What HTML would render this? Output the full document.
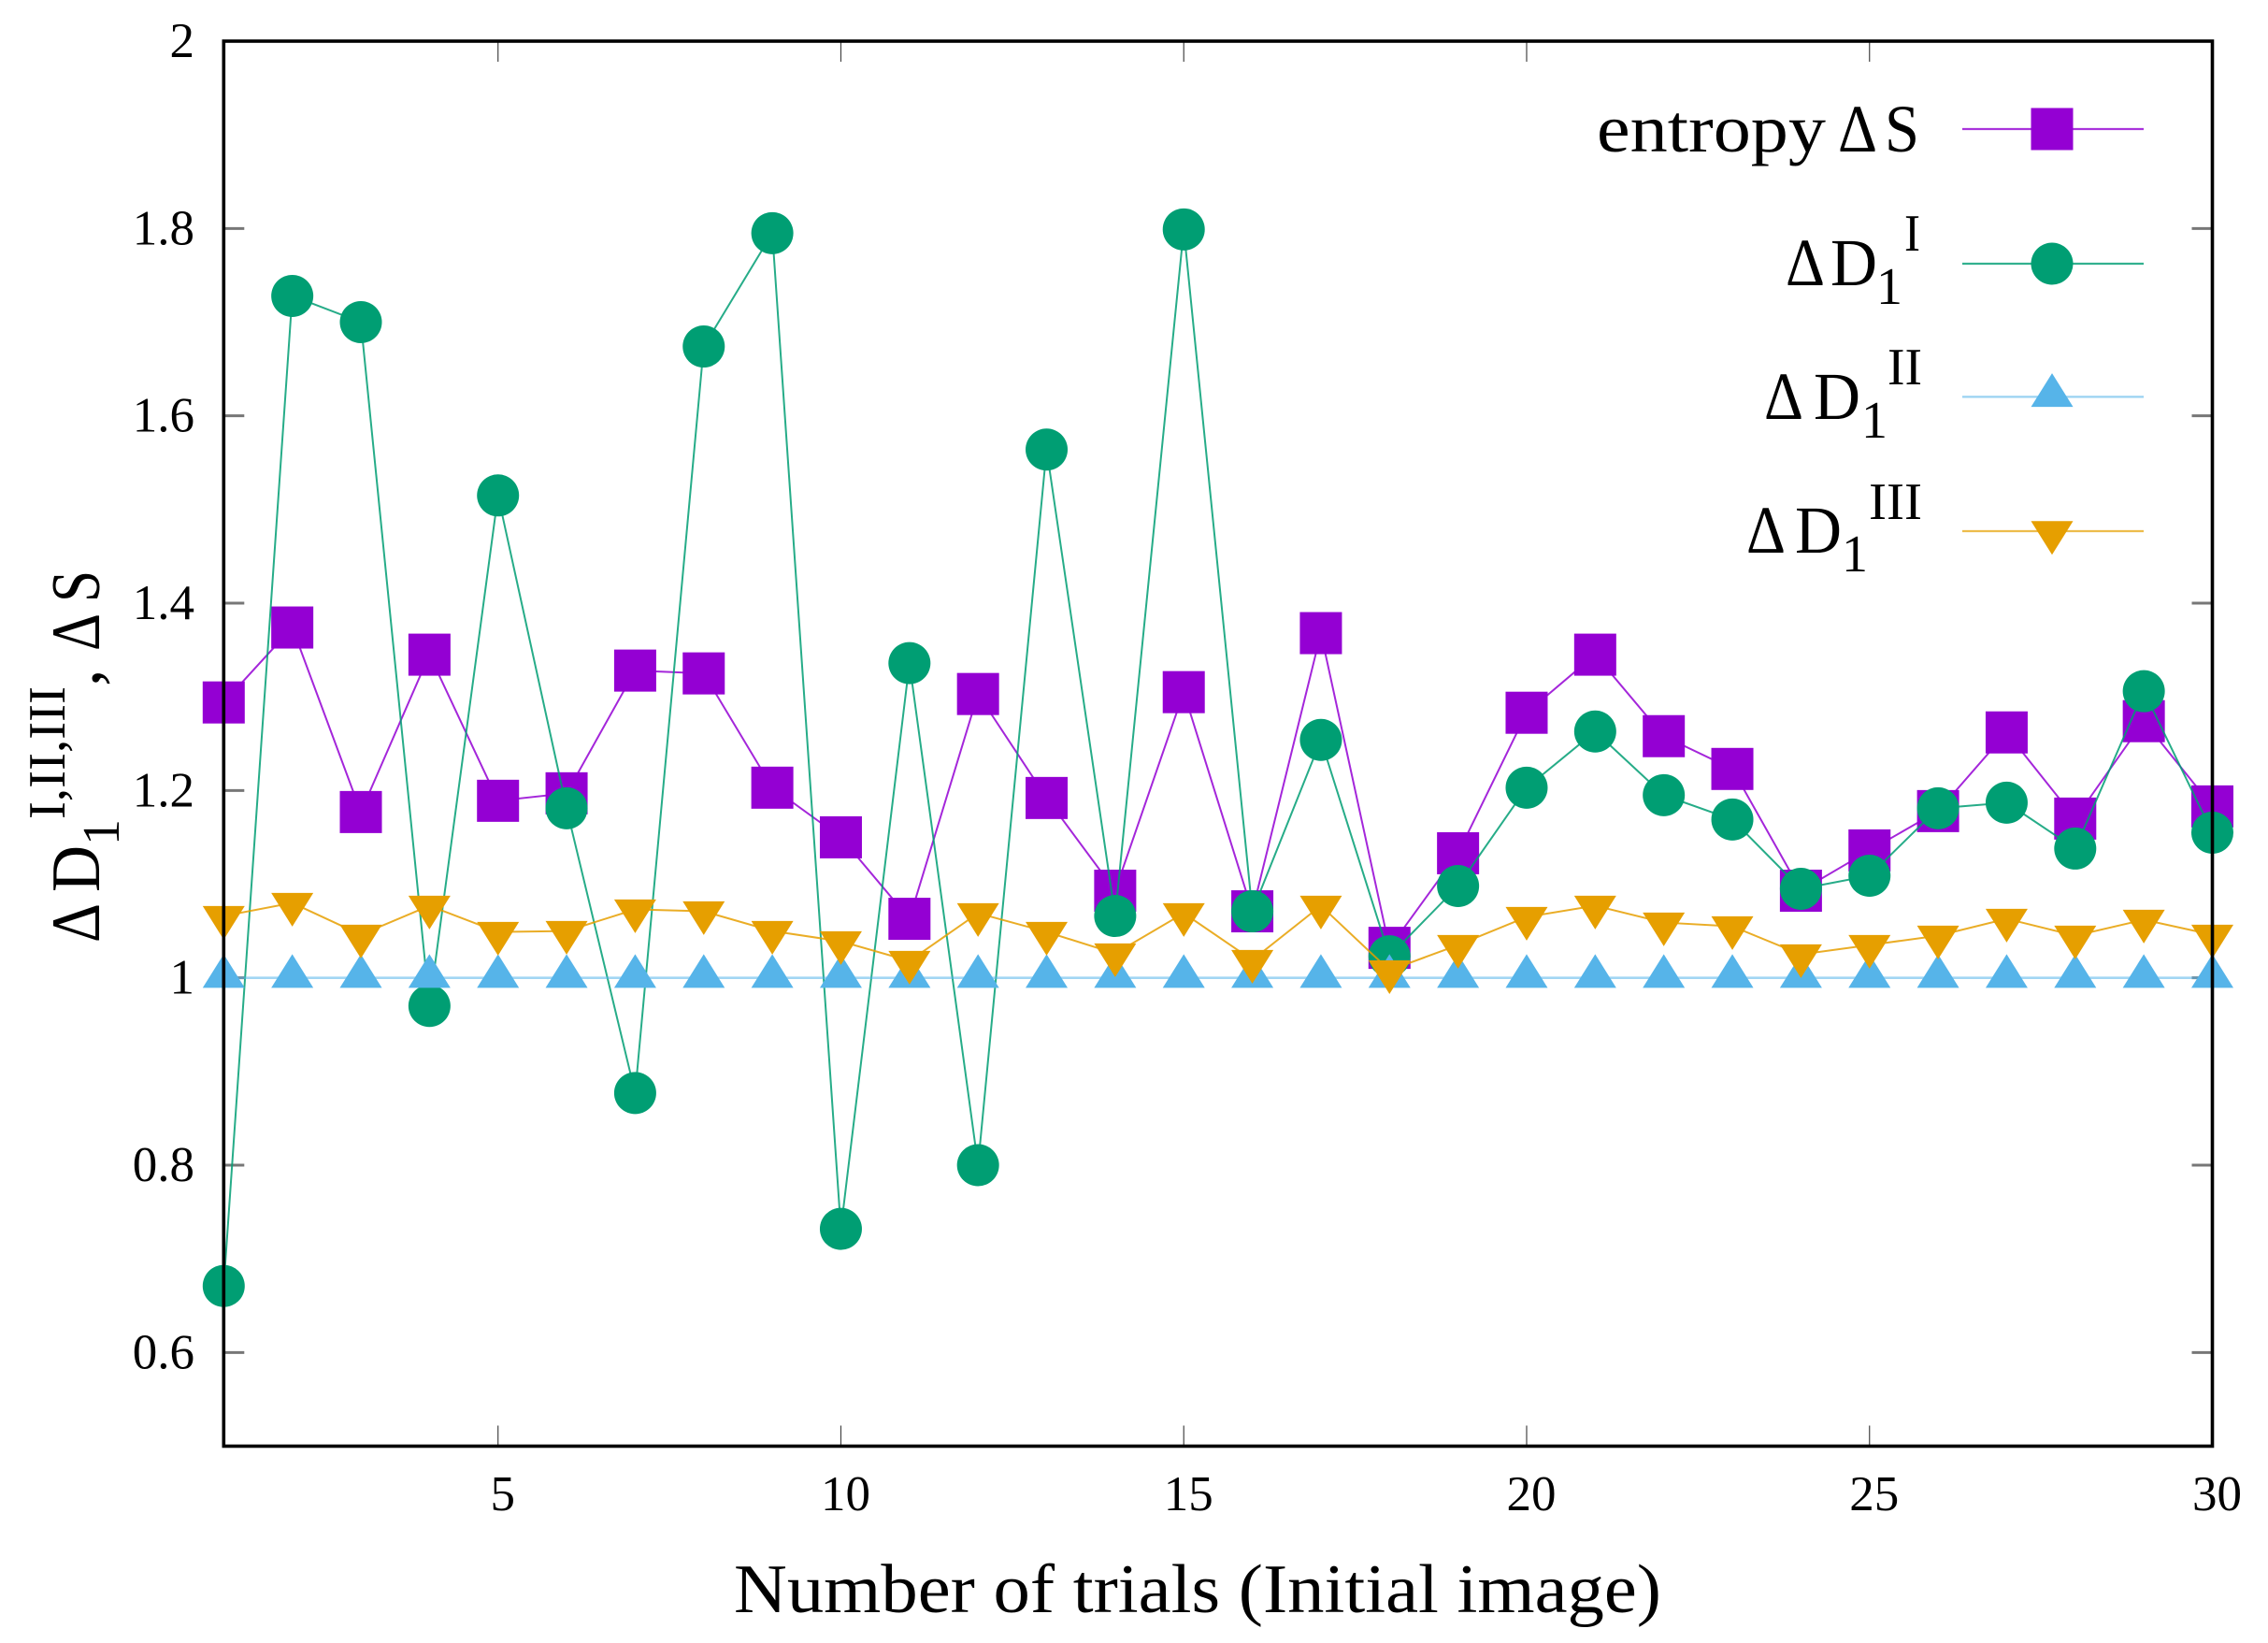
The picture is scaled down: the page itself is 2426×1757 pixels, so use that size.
<!DOCTYPE html>
<html>
<head>
<meta charset="utf-8">
<title>Entropy and fractal dimension differences</title>
<style>
html,body{margin:0;padding:0;background:#fff;}
svg{display:block;}
text{font-family:"Liberation Serif",serif;fill:#000;}
</style>
</head>
<body>
<svg id="chart" xmlns="http://www.w3.org/2000/svg" width="2426" height="1757" viewBox="0 0 2426 1757">
  <rect x="0" y="0" width="2426" height="1757" fill="#ffffff"/>
  <g id="ticks"></g>
  <g id="series"></g>
  <rect id="frame" fill="none" stroke="#000" stroke-width="3.6"/>
  <g id="tick-labels"></g>

  <text x="785" y="1724" font-size="74" textLength="992" lengthAdjust="spacingAndGlyphs">Number of trials (Initial image)</text>

  <g>
    <text transform="translate(106,1008) rotate(-90)" font-size="74" textLength="42" lengthAdjust="spacingAndGlyphs">Δ</text>
    <text transform="translate(106,954) rotate(-90)" font-size="74" textLength="50" lengthAdjust="spacingAndGlyphs">D</text>
    <text transform="translate(127,904) rotate(-90)" font-size="56">1</text>
    <text transform="translate(69,876) rotate(-90)" font-size="56" textLength="142" lengthAdjust="spacingAndGlyphs">I,II,III</text>
    <text transform="translate(106,734) rotate(-90)" font-size="74">,</text>
    <text transform="translate(106,696) rotate(-90)" font-size="74" textLength="40" lengthAdjust="spacingAndGlyphs">Δ</text>
    <text transform="translate(106,644) rotate(-90)" font-size="74" textLength="34" lengthAdjust="spacingAndGlyphs">S</text>
  </g>

  <g>
    <g>
      <text x="1708" y="162" font-size="72" textLength="245" lengthAdjust="spacingAndGlyphs">entropy</text>
      <text x="1966" y="162" font-size="72" textLength="42" lengthAdjust="spacingAndGlyphs">Δ</text>
      <text x="2016" y="162" font-size="72" textLength="37" lengthAdjust="spacingAndGlyphs">S</text>
    </g>
    <g>
      <text x="1910" y="305" font-size="72" textLength="42" lengthAdjust="spacingAndGlyphs">Δ</text>
      <text x="1958" y="305" font-size="72" textLength="50" lengthAdjust="spacingAndGlyphs">D</text>
      <text x="2007" y="325" font-size="56">1</text>
      <text x="2037" y="268" font-size="56" textLength="17" lengthAdjust="spacingAndGlyphs">I</text>
    </g>
    <g>
      <text x="1887" y="448" font-size="72" textLength="42" lengthAdjust="spacingAndGlyphs">Δ</text>
      <text x="1940" y="448" font-size="72" textLength="50" lengthAdjust="spacingAndGlyphs">D</text>
      <text x="1991" y="468" font-size="56">1</text>
      <text x="2019" y="411" font-size="56" textLength="37" lengthAdjust="spacingAndGlyphs">II</text>
    </g>
    <g>
      <text x="1868" y="591" font-size="72" textLength="42" lengthAdjust="spacingAndGlyphs">Δ</text>
      <text x="1920" y="591" font-size="72" textLength="50" lengthAdjust="spacingAndGlyphs">D</text>
      <text x="1970" y="611" font-size="56">1</text>
      <text x="1999" y="555" font-size="56" textLength="57" lengthAdjust="spacingAndGlyphs">III</text>
    </g>
    <g id="legend-keys"></g>
  </g>
</svg>
<script>
const trials = [1,2,3,4,5,6,7,8,9,10,11,12,13,14,15,16,17,18,19,20,21,22,23,24,25,26,27,28,29,30];
const entropyS = [1.294,1.374,1.177,1.345,1.189,1.197,1.328,1.325,1.203,1.150,1.063,1.303,1.192,1.093,1.305,1.071,1.368,1.032,1.133,1.283,1.345,1.258,1.223,1.093,1.136,1.178,1.262,1.170,1.274,1.183];
const d1One = [0.671,1.728,1.700,0.970,1.515,1.181,0.877,1.674,1.795,0.732,1.336,0.800,1.564,1.066,1.799,1.071,1.254,1.023,1.098,1.203,1.263,1.195,1.169,1.095,1.109,1.181,1.187,1.138,1.306,1.155];
const d1Two = [1,1,1,1,1,1,1,1,1,1,1,1,1,1,1,1,1,1,1,1,1,1,1,1,1,1,1,1,1,1];
const d1Three = [1.066,1.080,1.046,1.077,1.049,1.050,1.073,1.071,1.050,1.039,1.018,1.069,1.049,1.026,1.069,1.019,1.077,1.008,1.035,1.065,1.077,1.059,1.055,1.025,1.035,1.045,1.063,1.045,1.062,1.046];
const xTickValues = [5,10,15,20,25,30];
const yTickValues = [0.6,0.8,1,1.2,1.4,1.6,1.8];
const yLabelValues = ['0.6','0.8','1','1.2','1.4','1.6','1.8','2'];
const yLabelPositions = [0.6,0.8,1,1.2,1.4,1.6,1.8,2];

const NS = 'http://www.w3.org/2000/svg';
const plotLeft = 239.3, plotRight = 2366.5, plotTop = 44, plotBottom = 1546.5;
const xMin = 1, xMax = 30, yMin = 0.5, yMax = 2;
function xScale(v){ return plotLeft + (v - xMin) / (xMax - xMin) * (plotRight - plotLeft); }
function yScale(v){ return plotBottom - (v - yMin) / (yMax - yMin) * (plotBottom - plotTop); }

function make(tag, parent, attrs){
  const el = document.createElementNS(NS, tag);
  for (const k in attrs) el.setAttribute(k, attrs[k]);
  parent.appendChild(el);
  return el;
}

const frame = document.getElementById('frame');
frame.setAttribute('x', plotLeft);
frame.setAttribute('y', plotTop);
frame.setAttribute('width', plotRight - plotLeft);
frame.setAttribute('height', plotBottom - plotTop);

const ticksG = document.getElementById('ticks');
const labelsG = document.getElementById('tick-labels');
const tickLen = 22;

yTickValues.forEach(function(v){
  const y = yScale(v);
  const l1 = make('line', ticksG, {x1: plotLeft, x2: plotLeft + tickLen, y1: y, y2: y, stroke: '#777', 'stroke-width': 3});
  
  
  const l2 = make('line', ticksG, {x1: plotRight - tickLen, x2: plotRight, y1: y, y2: y, stroke: '#777', 'stroke-width': 3});
  
  
});

xTickValues.forEach(function(v){
  if (v >= xMax) return;
  const x = xScale(v);
  const t1 = make('line', ticksG, {x1: x, x2: x, y1: plotTop, y2: plotTop + tickLen, stroke: '#444', 'stroke-width': 1.2});
  
  
  const t2 = make('line', ticksG, {x1: x, x2: x, y1: plotBottom - tickLen, y2: plotBottom, stroke: '#444', 'stroke-width': 1.2});
  
  
});

xTickValues.forEach(function(v){
  const t = make('text', labelsG, {x: xScale(v) + 5, y: 1615, 'font-size': 53, 'text-anchor': 'middle'});
  t.textContent = String(v);
  
  
});

yLabelValues.forEach(function(s, i){
  const t = make('text', labelsG, {x: 208, y: yScale(yLabelPositions[i]) + 17, 'font-size': 53, 'text-anchor': 'end'});
  t.textContent = s;
  
  
});

const markerHalf = 22.5;
function drawMarker(parent, kind, cx, cy, color){
  let m;
  if (kind === 'square') {
    m = make('rect', parent, {x: cx - markerHalf, y: cy - markerHalf, width: markerHalf * 2, height: markerHalf * 2, fill: color});
  } else if (kind === 'circle') {
    m = make('circle', parent, {cx: cx, cy: cy, r: markerHalf, fill: color});
  } else if (kind === 'up') {
    m = make('polygon', parent, {points: cx + ',' + (cy - 25.3) + ' ' + (cx + markerHalf) + ',' + (cy + 10.7) + ' ' + (cx - markerHalf) + ',' + (cy + 10.7), fill: color});
  } else {
    m = make('polygon', parent, {points: cx + ',' + (cy + 25.3) + ' ' + (cx + markerHalf) + ',' + (cy - 10.7) + ' ' + (cx - markerHalf) + ',' + (cy - 10.7), fill: color});
  }
  return m;
}

const seriesG = document.getElementById('series');
function drawSeries(name, values, kind, color, lineWidth, lineOpacity){
  const g = make('g', seriesG, {});
  
  
  const pts = values.map(function(v, i){ return xScale(trials[i]) + ',' + yScale(v); }).join(' ');
  const line = make('polyline', g, {points: pts, fill: 'none', stroke: color, 'stroke-width': lineWidth, 'stroke-opacity': lineOpacity});
  
  
  values.forEach(function(v, i){
    const m = drawMarker(g, kind, xScale(trials[i]), yScale(v), color);
    
    
  });
}
drawSeries('entropy-series', entropyS, 'square', '#9400D3', 2, 0.85);
drawSeries('d1-i-series', d1One, 'circle', '#009E73', 2, 0.85);
drawSeries('d1-ii-series', d1Two, 'up', '#56B4E9', 2.6, 0.55);
drawSeries('d1-iii-series', d1Three, 'down', '#E69F00', 2, 0.85);

const legendG = document.getElementById('legend-keys');
function legendKey(name, y, kind, color, lineOpacity){
  const line = make('line', legendG, {x1: 2099, x2: 2293, y1: y, y2: y, stroke: color, 'stroke-width': 2.2, 'stroke-opacity': lineOpacity});
  
  
  const m = drawMarker(legendG, kind, 2195, y, color);
  
  
}
legendKey('legend-key-entropy', 138, 'square', '#9400D3', 0.8);
legendKey('legend-key-d1-i', 282, 'circle', '#009E73', 0.8);
legendKey('legend-key-d1-ii', 424.4, 'up', '#56B4E9', 0.6);
legendKey('legend-key-d1-iii', 568, 'down', '#E69F00', 0.7);
</script>
</body>
</html>
